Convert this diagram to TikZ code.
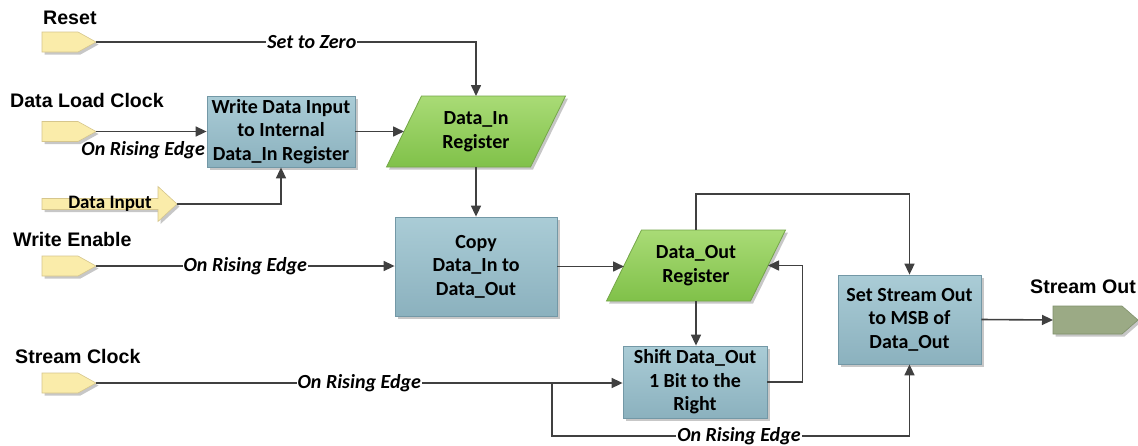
\documentclass[tikz,border=0pt]{standalone}
\usepackage{fontspec}
\setmainfont{Carlito}
\newfontfamily\portfont{Liberation Sans}
\usetikzlibrary{arrows.meta,shadows}

\definecolor{wirecol}{HTML}{404040}
\definecolor{boxtop}{HTML}{AACCD6}
\definecolor{boxbot}{HTML}{8BB1BE}
\definecolor{boxedge}{HTML}{7398A6}
\definecolor{regtop}{HTML}{A9DB76}
\definecolor{regbot}{HTML}{80C149}
\definecolor{regedge}{HTML}{74A648}
\definecolor{portfill}{HTML}{FAECAA}
\definecolor{portedge}{HTML}{D6C68C}
\definecolor{outfill}{HTML}{9BAA85}
\definecolor{outedge}{HTML}{7F906B}

\newcommand\boxtext{\fontsize{20}{23.5}\selectfont\bfseries}
\newcommand\porttext{\fontsize{19.6}{23}\selectfont\portfont\bfseries}
\newcommand\edgetext{\fontsize{20}{23}\selectfont\bfseries\itshape}

\tikzset{
  wire/.style={draw=wirecol, line width=1.6pt},
  arr/.style={wire, -{Triangle[length=11pt,width=10pt]}},
  softshadow/.style={drop shadow={shadow xshift=2.5pt, shadow yshift=-2.5pt, fill=black, opacity=0.22}},
  procbox/.style={rectangle, draw=boxedge, line width=0.8pt, top color=boxtop,
    bottom color=boxbot, font=\boxtext, align=center, inner sep=0pt, softshadow},
  portlabel/.style={font=\porttext, inner sep=0pt, anchor=west},
  edgelabel/.style={font=\edgetext, fill=white, inner sep=1pt},
  % register: parallelogram 179 wide, 71 high, slanted by 35
  register/.pic={
    \path[draw=regedge, line width=0.8pt, top color=regtop, bottom color=regbot, softshadow]
      (-89.5,35.5) -- (54.5,35.5) -- (89.5,-35.5) -- (-54.5,-35.5) -- cycle;
    \node[font=\boxtext, align=center, inner sep=0pt] (-text) at (0,0) {#1};
    \coordinate (-n) at (0,-35.5);
    \coordinate (-s) at (0,35.5);
    \coordinate (-w) at (-72,0);
    \coordinate (-e) at (72,0);
  },
  inport/.pic={
    \path[draw=portedge, fill=portfill, line width=0.6pt, softshadow]
      (-54,-10) -- (-18,-10) -- (0,0) -- (-18,10) -- (-54,10) -- cycle;
    \coordinate (-tip) at (0,0);
  },
  outport/.pic={
    \path[draw=outedge, fill=outfill, line width=0.6pt, softshadow]
      (0,-14) -- (69,-14) -- (85,0) -- (69,14) -- (0,14) -- cycle;
    \coordinate (-in) at (0,0);
  },
  busport/.pic={
    \path[draw=portedge, fill=portfill, line width=0.6pt, softshadow]
      (-135,-5.5) -- (-19,-5.5) -- (-19,-17.5) -- (0,0) -- (-19,17.5)
      -- (-19,5.5) -- (-135,5.5) -- cycle;
    \coordinate (-tip) at (0,0);
  }
}

\begin{document}
\begin{tikzpicture}[x=1pt,y=-1pt]
\useasboundingbox[fill=white] (0,0) rectangle (1138,445);

% input and output ports
\pic (reset) at (96,42) {inport};
\pic (dlc) at (96,131.5) {inport};
\pic (we) at (96,266) {inport};
\pic (sc) at (96,383) {inport};
\pic (dinput) at (177,204) {busport};
\node[font=\fontsize{19}{21}\selectfont\bfseries, inner sep=0pt] (dinputtext) at (110,204) {Data Input};
\pic (sout) at (1053,320) {outport};

% port names
\node[portlabel] (lreset) at (43,18) {Reset};
\node[portlabel] (ldlc) at (10,100) {Data Load Clock};
\node[portlabel] (lwe) at (13,239) {Write Enable};
\node[portlabel] (lsc) at (15,356) {Stream Clock};
\node[portlabel] (lsout) at (1030,287) {Stream Out};

% processing steps and registers
\node[procbox, minimum width=148pt, minimum height=71pt] (wd) at (281,131.5)
  {Write Data Input\\to Internal\\Data\_In Register};
\pic (din) at (476,131.5) {register={Data\_In\\Register}};
\node[procbox, minimum width=162pt, minimum height=99pt] (copy) at (476,266.5)
  {Copy\\Data\_In to\\Data\_Out};
\pic (dout) at (696,265.5) {register={Data\_Out\\Register}};
\node[procbox, minimum width=144pt, minimum height=72pt] (shift) at (695,382)
  {Shift Data\_Out\\1 Bit to the\\Right};
\node[procbox, minimum width=143pt, minimum height=89pt] (set) at (909.5,319.5)
  {Set Stream Out\\to MSB of\\Data\_Out};

\coordinate (ytop) at (0,194);
\coordinate (ybot) at (0,436);
\coordinate (br) at (552,383);

% connectors
\draw[arr] (reset-tip) -| node[edgelabel, pos=0.284] (lzero) {Set to Zero} (din-n);
\draw[arr] (dlc-tip) -- (wd.west);
\node[font=\edgetext, inner sep=0pt, anchor=east] (ldlcedge) at (205,150) {On Rising Edge};
\draw[arr] (dinput-tip) -| (wd.south);
\draw[arr] (wd.east) -- (din-w);
\draw[arr] (din-s) -- (copy.north);
\draw[arr] (we-tip) -- node[edgelabel, pos=0.5] (lweedge) {On Rising Edge}
  (we-tip -| copy.west);
\draw[arr] (copy.east) -- (copy.east -| dout-w);
\draw[arr] (dout-n) -- (dout-n |- ytop) -| (set.north);
\draw[arr] (dout-s) -- (dout-s |- shift.north);
\draw[arr] (shift.east) -- ++(35,0) |- (dout-e);
\draw[arr] (sc-tip) -- node[edgelabel, pos=0.5] (lscedge) {On Rising Edge}
  (sc-tip -| shift.west);
\draw[arr] (br) -- (br |- ybot) -| node[edgelabel, pos=0.2615] (lbotedge) {On Rising Edge}
  (set.south);
\draw[arr] (set.east) -- (sout-in);
\end{tikzpicture}
\end{document}
